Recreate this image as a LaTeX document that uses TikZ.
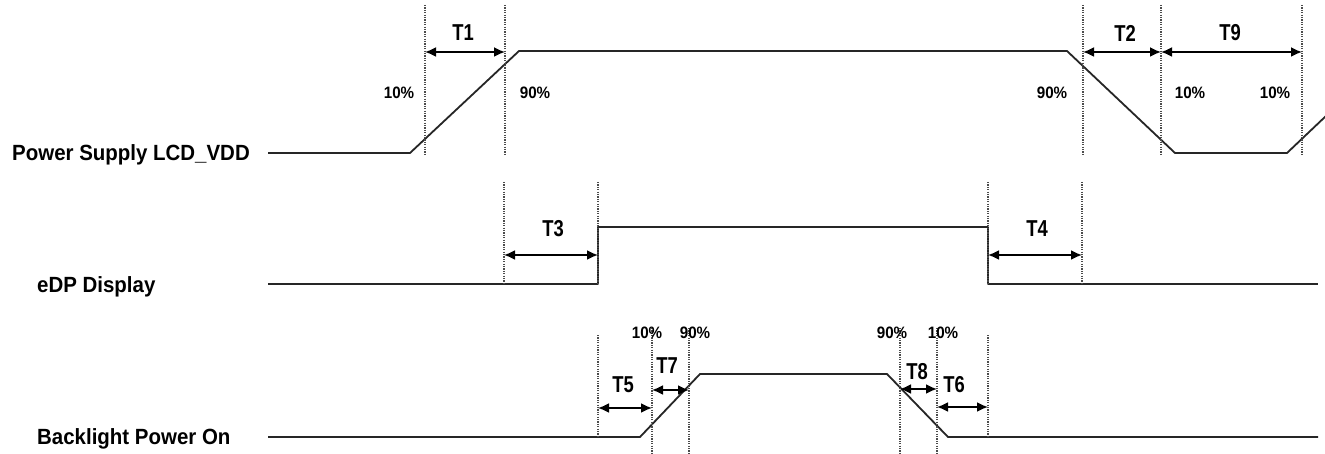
\documentclass[tikz,border=0pt]{standalone}
\usepackage{fontspec}
\setmainfont{Liberation Sans}
\newfontfamily\sigfont{Liberation Sans}[FakeStretch=0.93]
\newfontfamily\tfont{Liberation Sans}[FakeStretch=0.8]
\newfontfamily\pfont{Liberation Sans}[FakeStretch=0.92]
\usetikzlibrary{arrows.meta}
\begin{document}
\begin{tikzpicture}[x=1pt,y=-1pt,
  wave/.style={line width=1.8pt, draw=black!85, line join=round},
  guide/.style={line width=1.3pt, draw=black!70, dash pattern=on 1.2pt off 1.2pt},
  dim/.style={line width=1.8pt, draw=black, {Latex[length=11pt,width=10pt]}-{Latex[length=11pt,width=10pt]}},
  sig/.style={font=\sigfont\bfseries\fontsize{22}{24}\selectfont, anchor=base west, inner sep=0pt},
  tl/.style={font=\tfont\bfseries\fontsize{23}{25}\selectfont, inner sep=0pt},
  pl/.style={font=\pfont\bfseries\fontsize{16.5}{18}\selectfont, inner sep=0pt},
]
\useasboundingbox[fill=white] (0,0) rectangle (1325,454);

% ---------- signal names ----------
\node[sig] (nvdd) at (12,161) {Power Supply LCD\_VDD};
\node[sig] (nedp) at (37,293) {eDP Display};
\node[sig] (nbl)  at (37,444) {Backlight Power On};

% ---------- waveform points ----------
\coordinate (a0) at (268,153);
\coordinate (a1) at (410,153);
\coordinate (a2) at (519,51);
\coordinate (a3) at (1067,51);
\coordinate (a4) at (1175,153);
\coordinate (a5) at (1287,153);
\coordinate (a6) at (1327,115);

\coordinate (b0) at (268,284);
\coordinate (b1) at (598,284);
\coordinate (b2) at (598,227);
\coordinate (b3) at (988,227);
\coordinate (b4) at (988,284);
\coordinate (b5) at (1318,284);

\coordinate (c0) at (268,437);
\coordinate (c1) at (640,437);
\coordinate (c2) at (700,374);
\coordinate (c3) at (887,374);
\coordinate (c4) at (948,437);
\coordinate (c5) at (1318,437);

\draw[wave] (a0) -- (a1) -- (a2) -- (a3) -- (a4) -- (a5) -- (a6);
\draw[wave] (b0) -- (b1) -- (b2) -- (b3) -- (b4) -- (b5);
\draw[wave] (c0) -- (c1) -- (c2) -- (c3) -- (c4) -- (c5);

% ---------- guide lines ----------
\foreach \n/\x in {g1/425, g2/505, g3/1083, g4/1161, g5/1302}{
  \coordinate (\n t) at (\x,5);
  \coordinate (\n b) at (\x,155);
  \draw[guide] (\n t) -- (\n b);
}
\foreach \n/\x in {h1/504, h2/598, h3/988, h4/1082}{
  \coordinate (\n t) at (\x,182);
  \coordinate (\n b) at (\x,284);
  \draw[guide] (\n t) -- (\n b);
}
\foreach \n/\x/\ya/\yb in {k1/598/335/437, k2/652/328/454, k3/689/328/454, k4/900/328/454, k5/937/328/454, k6/988/335/437}{
  \coordinate (\n t) at (\x,\ya);
  \coordinate (\n b) at (\x,\yb);
  \draw[guide] (\n t) -- (\n b);
}

% ---------- dimension arrows ----------
\coordinate (d1a) at (425,52);  \coordinate (d1b) at (505,52);
\coordinate (d2a) at (1083,52); \coordinate (d2b) at (1161,52);
\coordinate (d9a) at (1161,52); \coordinate (d9b) at (1302,52);
\coordinate (d3a) at (504,255); \coordinate (d3b) at (598,255);
\coordinate (d4a) at (988,255); \coordinate (d4b) at (1082,255);
\coordinate (d5a) at (598,408); \coordinate (d5b) at (652,408);
\coordinate (d7a) at (652,390); \coordinate (d7b) at (689,390);
\coordinate (d8a) at (900,389); \coordinate (d8b) at (937,389);
\coordinate (d6a) at (937,407); \coordinate (d6b) at (988,407);

\draw[dim] (d1a) -- (d1b);
\draw[dim] (d2a) -- (d2b);
\draw[dim] (d9a) -- (d9b);
\draw[dim] (d3a) -- (d3b);
\draw[dim] (d4a) -- (d4b);
\draw[dim] (d5a) -- (d5b);
\draw[dim] (d7a) -- (d7b);
\draw[dim] (d8a) -- (d8b);
\draw[dim] (d6a) -- (d6b);

% ---------- T labels ----------
\node[tl] (t1) at (463,33) {T1};
\node[tl] (t2) at (1125,33) {T2};
\node[tl] (t9) at (1230,33) {T9};
\node[tl] (t3) at (553,229) {T3};
\node[tl] (t4) at (1037,229) {T4};
\node[tl] (t5) at (623,385) {T5};
\node[tl] (t7) at (667,366) {T7};
\node[tl] (t8) at (917,372) {T8};
\node[tl] (t6) at (954,385) {T6};

% ---------- percent labels ----------
\node[pl] (p1) at (399,93) {10\%};
\node[pl] (p2) at (535,93) {90\%};
\node[pl] (p3) at (1052,93) {90\%};
\node[pl] (p4) at (1190,93) {10\%};
\node[pl] (p5) at (1275,93) {10\%};
\node[pl] (p6) at (647,333) {10\%};
\node[pl] (p7) at (695,333) {90\%};
\node[pl] (p8) at (892,333) {90\%};
\node[pl] (p9) at (943,333) {10\%};
\end{tikzpicture}
\end{document}
